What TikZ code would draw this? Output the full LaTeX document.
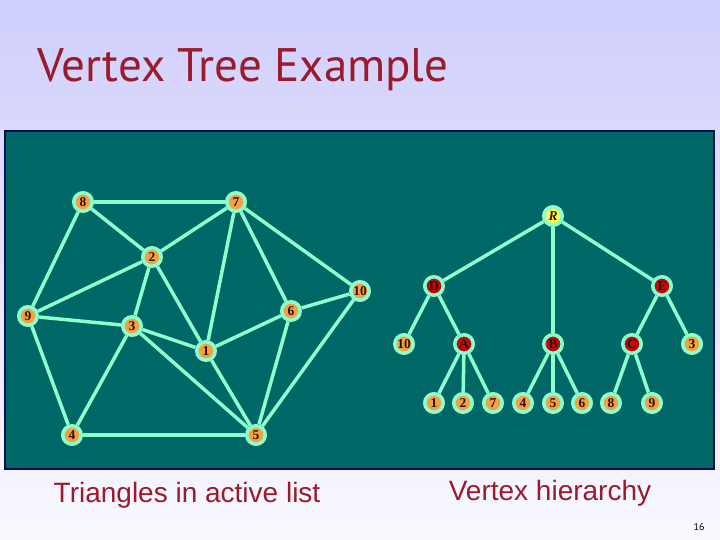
\documentclass[tikz,border=0pt]{standalone}
\usepackage{fontspec}
\setmainfont{Liberation Serif}
\setsansfont{Liberation Sans}
\newfontfamily\titlefont{PT Sans}
\usepackage{xcolor}
\usepackage{tikz}

\definecolor{slidetop}{HTML}{CFCFFD}
\definecolor{slidebot}{HTML}{F9F9FF}
\definecolor{titlered}{HTML}{9A1B2B}
\definecolor{panelteal}{HTML}{006666}
\definecolor{panelnavy}{HTML}{0A0A50}
\definecolor{edgegreen}{HTML}{8CFFCC}
\definecolor{vorange}{HTML}{F4A044}
\definecolor{vred}{HTML}{BE0A0A}
\definecolor{vyellow}{HTML}{FFFF50}
\definecolor{vtext}{HTML}{2A1208}

\begin{document}
\begin{tikzpicture}[
        x=1pt, y=-1pt,
        vert/.style={circle, draw=edgegreen, line width=3.5pt, fill=vorange,
                     minimum size=18.5pt, inner sep=0pt, text=vtext,
                     font=\fontsize{13.5}{13.5}\selectfont\bfseries},
        inner/.style={vert, fill=vred},
        root/.style={vert, fill=vyellow, font=\fontsize{13.5}{13.5}\selectfont\bfseries\itshape},
        edge/.style={draw=edgegreen, line width=3.5pt},
        caption/.style={text=titlered, font=\sffamily\fontsize{28}{28}\selectfont}
    ]
        % slide background and panel
        \shade[top color=slidetop, bottom color=slidebot] (0,0) rectangle (720,540);
        \useasboundingbox (0,0) rectangle (720,540);
        \filldraw[fill=panelteal, draw=panelnavy, line width=2pt] (5,131) rectangle (714,469);

        \node[anchor=base west, text=titlered, font=\titlefont\fontsize{47}{47}\selectfont]
            (title) at (34,82) {Vertex Tree Example};

        % active triangulation
        \node[vert] (g8) at (83,202) {8};
        \node[vert] (g7) at (236,202) {7};
        \node[vert] (g2) at (152,257) {2};
        \node[vert] (g10) at (360,291) {10};
        \node[vert] (g6) at (291,311) {6};
        \node[vert] (g9) at (28,316) {9};
        \node[vert] (g3) at (132,326) {3};
        \node[vert] (g1) at (206,351) {1};
        \node[vert] (g4) at (72,435) {4};
        \node[vert] (g5) at (256,435) {5};

        \draw[edge] (g8) -- (g7);
        \draw[edge] (g8) -- (g2);
        \draw[edge] (g8) -- (g9);
        \draw[edge] (g7) -- (g2);
        \draw[edge] (g7) -- (g1);
        \draw[edge] (g7) -- (g6);
        \draw[edge] (g7) -- (g10);
        \draw[edge] (g2) -- (g9);
        \draw[edge] (g2) -- (g3);
        \draw[edge] (g2) -- (g1);
        \draw[edge] (g9) -- (g3);
        \draw[edge] (g9) -- (g4);
        \draw[edge] (g3) -- (g1);
        \draw[edge] (g3) -- (g4);
        \draw[edge] (g3) -- (g5);
        \draw[edge] (g1) -- (g6);
        \draw[edge] (g1) -- (g5);
        \draw[edge] (g6) -- (g10);
        \draw[edge] (g6) -- (g5);
        \draw[edge] (g10) -- (g5);
        \draw[edge] (g4) -- (g5);

        % vertex hierarchy
        \node[root] (tR) at (553,216) {R};
        \node[inner] (tD) at (434,286) {D};
        \node[inner] (tE) at (662,286) {E};
        \node[vert] (t10) at (404,344) {10};
        \node[inner] (tA) at (464,344) {A};
        \node[inner] (tB) at (553,344) {B};
        \node[inner] (tC) at (632,344) {C};
        \node[vert] (t3) at (692,344) {3};
        \node[vert] (t1) at (434,403) {1};
        \node[vert] (t2) at (463,403) {2};
        \node[vert] (t7) at (493,403) {7};
        \node[vert] (t4) at (523,403) {4};
        \node[vert] (t5) at (553,403) {5};
        \node[vert] (t6) at (582,403) {6};
        \node[vert] (t8) at (611,403) {8};
        \node[vert] (t9) at (652,403) {9};

        \draw[edge] (tR) -- (tD);
        \draw[edge] (tR) -- (tB);
        \draw[edge] (tR) -- (tE);
        \draw[edge] (tD) -- (t10);
        \draw[edge] (tD) -- (tA);
        \draw[edge] (tE) -- (tC);
        \draw[edge] (tE) -- (t3);
        \draw[edge] (tA) -- (t1);
        \draw[edge] (tA) -- (t2);
        \draw[edge] (tA) -- (t7);
        \draw[edge] (tB) -- (t4);
        \draw[edge] (tB) -- (t5);
        \draw[edge] (tB) -- (t6);
        \draw[edge] (tC) -- (t8);
        \draw[edge] (tC) -- (t9);

        \node[caption] (caplist) at (187,495) {Triangles in active list};
        \node[caption] (caphier) at (550,493) {Vertex hierarchy};
        \node[font=\titlefont\fontsize{10}{10}\selectfont, text=black] (pagenum) at (699,527) {16};
    \end{tikzpicture}
\end{document}
